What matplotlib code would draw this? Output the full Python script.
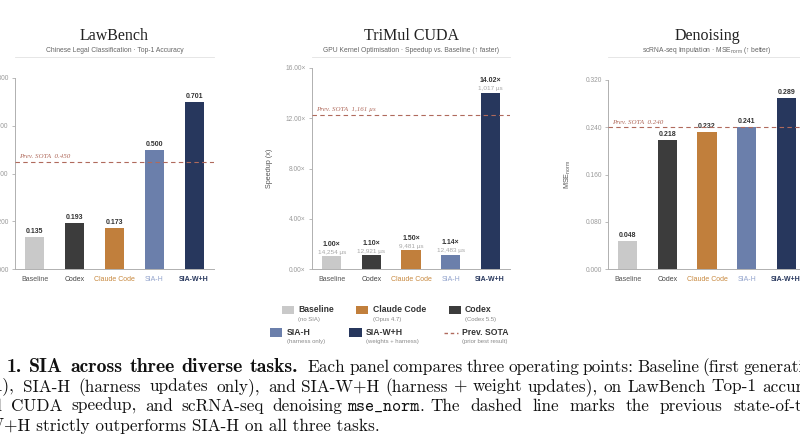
import matplotlib
matplotlib.use("Agg")
import matplotlib.pyplot as plt
import matplotlib.transforms as mtransforms
from matplotlib.patches import Rectangle
import numpy as np

W, H, DPI = 800, 445, 100

# ---------------- data ----------------
categories = ["Baseline", "Codex", "Claude Code", "SIA-H", "SIA-W+H"]

lawbench_acc = [0.135, 0.193, 0.173, 0.500, 0.701]
lawbench_sota = 0.450
lawbench_ticks = [0.0, 0.2, 0.4, 0.6, 0.8]

trimul_speedup = [1.00, 1.10, 1.50, 1.14, 14.02]
trimul_time_us = ["14,254", "12,921", "9,481", "12,483", "1,017"]
trimul_sota_speedup = 12.28
trimul_sota_label = "1,161 µs"
trimul_ticks = [0, 4, 8, 12, 16]

denoise_mse = [0.048, 0.218, 0.232, 0.241, 0.289]
denoise_sota = 0.240
denoise_ticks = [0.0, 0.08, 0.16, 0.24, 0.32]

legend_labels = ["Baseline", "Claude Code", "Codex", "SIA-H", "SIA-W+H", "Prev. SOTA"]
legend_sublabels = ["(no SIA)", "(Opus 4.7)", "(Codex 5.5)", "(harness only)",
                    "(weights + harness)", "(prior best result)"]

# ---------------- style ----------------
bar_colors = ["#c9c9c9", "#3c3c3c", "#c17f3c", "#6b7fab", "#27375d"]
label_colors = ["#555555", "#444444", "#c8893f", "#92a3cc", "#27375d"]
sota_color = "#b06a5c"
SANS = ["Liberation Sans", "DejaVu Sans"]
SERIF = ["Liberation Serif", "DejaVu Serif"]

plt.rcParams["font.family"] = SANS
plt.rcParams["mathtext.fontset"] = "custom"
plt.rcParams["mathtext.rm"] = "Liberation Sans"
plt.rcParams["mathtext.it"] = "Liberation Sans:italic"

fig = plt.figure(figsize=(W / DPI, H / DPI), dpi=DPI)
fig.patch.set_facecolor("white")

ov = fig.add_axes([0, 0, 1, 1])
ov.set_xlim(0, W)
ov.set_ylim(H, 0)
ov.axis("off")


def rect(x0, x1, ytop, ybot):
    return [x0 / W, 1 - ybot / H, (x1 - x0) / W, (ybot - ytop) / H]


def panel(x0, x1, ytop, ybot, values, ticks, tickfmt, title, subtitle,
          ylabel, sota, sota_text, value_fmt, extra=None):
    ax = fig.add_axes(rect(x0, x1, ytop, ybot))
    x = np.arange(len(categories))
    ax.bar(x, values, width=0.48, color=bar_colors, zorder=2)
    ax.set_xlim(-0.5, 4.5)
    ax.set_ylim(ticks[0], ticks[-1])
    for s in ["top", "right"]:
        ax.spines[s].set_visible(False)
    for s in ["left", "bottom"]:
        ax.spines[s].set_color("#b0b0b0")
        ax.spines[s].set_linewidth(0.7)
    ax.set_yticks(ticks)
    ax.set_yticklabels([tickfmt(t) for t in ticks])
    ax.tick_params(axis="y", labelsize=4.8, labelcolor="#9a9a9a", color="#b0b0b0",
                   length=2.5, width=0.6, pad=2)
    ax.set_xticks(x)
    ax.set_xticklabels(categories)
    ax.tick_params(axis="x", length=0, pad=5, labelsize=5)
    for lab, c in zip(ax.get_xticklabels(), label_colors):
        lab.set_color(c)
    ax.get_xticklabels()[-1].set_fontweight("bold")
    ax.set_ylabel(ylabel, fontsize=5.2, color="#555555", labelpad=9)
    ax.patch.set_alpha(0)

    # value labels
    for i, v in enumerate(values):
        if extra is None:
            ax.annotate(value_fmt(v), (i, v), xytext=(0, 2), textcoords="offset pixels",
                        ha="center", va="bottom", fontsize=5, fontweight="bold",
                        color="#333333")
        else:
            ax.annotate(extra[i] + " µs", (i, v), xytext=(0, 1.5), textcoords="offset pixels",
                        ha="center", va="bottom", fontsize=4.6, color="#a8a8a8")
            ax.annotate(value_fmt(v), (i, v), xytext=(0, 8.5), textcoords="offset pixels",
                        ha="center", va="bottom", fontsize=5, fontweight="bold",
                        color="#333333")

    # previous SOTA
    ax.axhline(sota, color=sota_color, lw=0.8, ls=(0, (4, 3)), zorder=3)
    tr = mtransforms.blended_transform_factory(ax.transAxes, ax.transData)
    ax.annotate("Prev. SOTA  " + sota_text, (0.02, sota), xycoords=tr,
                xytext=(0, 2.5), textcoords="offset pixels", ha="left", va="bottom",
                fontsize=5, fontstyle="italic", family=SERIF, color=sota_color)

    cx = (x0 + x1) / 2
    ov.text(cx, 40.5, title, ha="center", va="baseline", family=SERIF, fontsize=11.5,
            color="#222222")
    ov.text(cx, 50, subtitle, ha="center", va="center", fontsize=4.9, color="#666666")
    ov.plot([x0, x1], [57.3, 57.3], color="#e2e2e2", lw=0.6)
    return ax


panel(15, 214, 78, 269, lawbench_acc, lawbench_ticks, lambda t: f"{t:.3f}",
      "LawBench", "Chinese Legal Classification · Top-1 Accuracy",
      "Top-1 Accuracy", lawbench_sota, f"{lawbench_sota:.3f}", lambda v: f"{v:.3f}")

panel(312, 510, 68, 269, trimul_speedup, trimul_ticks, lambda t: f"{t:.2f}×",
      "TriMul CUDA", "GPU Kernel Optimisation · Speedup vs. Baseline (↑ faster)",
      "Speedup (x)", trimul_sota_speedup, trimul_sota_label, lambda v: f"{v:.2f}×",
      extra=trimul_time_us)

panel(608, 806, 80, 269, denoise_mse, denoise_ticks, lambda t: f"{t:.3f}",
      "Denoising", r"scRNA-seq Imputation · MSE$_{\rm norm}$ (↑ better)",
      r"MSE$_{\rm norm}$", denoise_sota, f"{denoise_sota:.3f}", lambda v: f"{v:.3f}")

# ---------------- legend ----------------
leg_items = [
    (281.7, 310.0, 298.3),
    (356.0, 310.0, 372.7),
    (449.0, 310.0, 465.0),
    (270.0, 332.5, 286.7),
    (349.3, 332.5, 365.7),
    (444.0, 332.5, 461.7),
]
leg_colors = [bar_colors[0], bar_colors[2], bar_colors[1], bar_colors[3], bar_colors[4], None]
for (px, py, tx), c, lab, sub in zip(leg_items, leg_colors, legend_labels, legend_sublabels):
    if c is not None:
        ov.add_patch(Rectangle((px, py - 4.2), 12.3, 8.4, color=c, lw=0))
    else:
        ov.plot([px, px + 14], [py, py], color=sota_color, lw=1.0, ls=(0, (2.5, 2)))
    ov.text(tx, py, lab, ha="left", va="center", fontsize=6.2, fontweight="bold",
            color="#333333")
    ov.text(tx, py + 9.5, sub, ha="left", va="center", fontsize=4.3, color="#8a8a8a")

# ---------------- caption (justified lines) ----------------
renderer = fig.canvas.get_renderer()
FS = 12.4
RM = dict(family="cmr10", fontsize=FS, color="#111111")
BF = dict(family="cmb10", fontsize=FS * 1.15, color="#111111")
TT = dict(family="cmtt10", fontsize=FS, color="#111111")


def place_line(y, words, anchors, prefix=None, prefix_end=None):
    """anchors: {word index: x start}; words between anchors are evenly spaced."""
    items = []
    for w in words:
        pieces, width = [], 0.0
        for s, kw in w:
            t = ov.text(0, y, s, ha="left", va="baseline", **kw)
            pieces.append((t, width))
            width += t.get_window_extent(renderer).width
        items.append((pieces, width))
    keys = sorted(anchors)
    xs = [0.0] * len(items)
    gaps = []
    for a, b in zip(keys[:-1], keys[1:]):
        g = (anchors[b] - anchors[a] - sum(items[k][1] for k in range(a, b))) / (b - a)
        gaps.append(g)
        cur = anchors[a]
        for k in range(a, b):
            xs[k] = cur
            cur += items[k][1] + g
    xs[keys[-1]] = anchors[keys[-1]]
    cur = anchors[keys[-1]] + items[keys[-1]][1] + gaps[-1]
    for k in range(keys[-1] + 1, len(items)):
        xs[k] = cur
        cur += items[k][1] + gaps[-1]
    for (pieces, wd), x in zip(items, xs):
        for t, off in pieces:
            t.set_x(x + off)
    if prefix is not None:
        px = prefix_end if prefix_end is not None else anchors[keys[0]] - gaps[0]
        ov.text(px, y, prefix, ha="right", va="baseline", **RM)


def words_of(text, kw):
    return [[(w, kw)] for w in text.split()]


cap_y = [372.0, 391.5, 411.0, 430.5]

line1 = words_of("1. SIA across three diverse tasks.", BF) + \
    words_of("Each panel compares three operating points: Baseline (first generation", RM)
place_line(cap_y[0], line1, {0: 7.0, 5: 250.0, 6: 308.0, 14: 743.0})

line2 = words_of("SIA-H (harness updates only), and SIA-W+H (harness + weight updates), "
                 "on LawBench Top-1 accuracy,", RM)
place_line(cap_y[1], line2, {0: 23.0, 4: 268.0, 13: 762.0}, prefix="(no SIA),",
           prefix_end=14.0)

line3 = words_of("CUDA speedup, and scRNA-seq denoising", RM) + \
    [[("mse_norm", TT), (".", RM)]] + \
    words_of("The dashed line marks the previous state-of-the-art", RM)
place_line(cap_y[2], line3, {0: 11.0, 4: 272.0, 6: 430.0, 12: 733.0}, prefix="TriMul")

ov.text(4.0, cap_y[3], "SIA-W", ha="right", va="baseline", **RM)
ov.text(4.0, cap_y[3], "+H strictly outperforms SIA-H on all three tasks.",
        ha="left", va="baseline", **RM)

fig.savefig("out.png", dpi=DPI)
